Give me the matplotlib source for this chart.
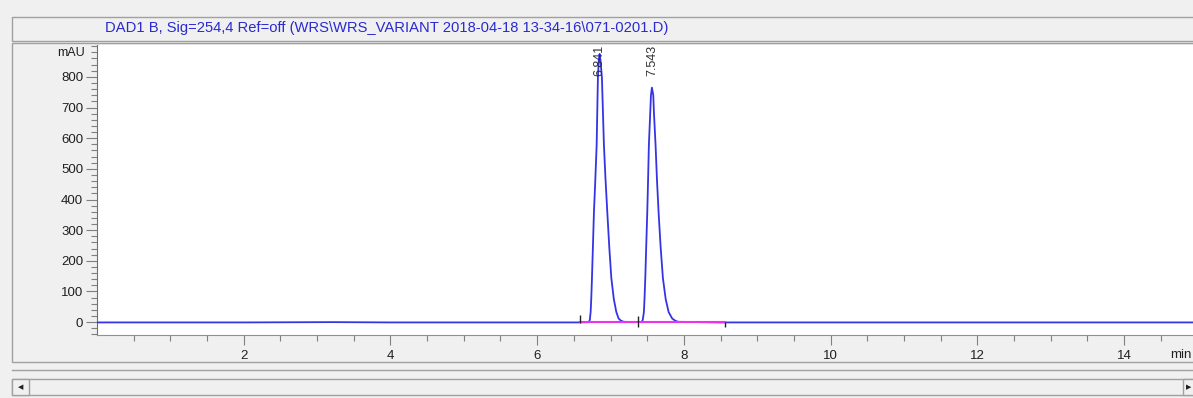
import matplotlib.pyplot as plt
import matplotlib.patches as patches
import numpy as np

# signal trace (min, mAU)
time = [0.0, 2.0, 3.2, 4.0, 6.0, 6.55, 6.705, 6.718, 6.729, 6.738, 6.747, 6.760,
        6.774, 6.792, 6.811, 6.828, 6.840, 6.851, 6.863, 6.883, 6.910, 6.932,
        6.956, 6.983, 7.011, 7.045, 7.079, 7.11, 7.14, 7.18, 7.30,
        7.425, 7.440, 7.455, 7.464, 7.474, 7.487, 7.501, 7.512, 7.523, 7.542,
        7.551, 7.564, 7.583, 7.591, 7.614, 7.633, 7.655, 7.683, 7.714, 7.752,
        7.792, 7.84, 7.88, 7.92, 8.5, 10.0, 12.0, 15.0]
signal = [-1, -1, 0, -1, -1, -1, 0, 8, 33, 80, 144, 245,
          359, 460, 578, 796, 855, 875, 855, 796, 578, 465,
          359, 245, 144, 75, 33, 12, 5, 1, 0,
          0, 8, 33, 80, 144, 250, 359, 465, 578, 687,
          740, 765, 740, 687, 578, 465, 359, 245, 144, 75,
          33, 12, 5, 1, -1, -1, -1, -1]

peak_labels = ["6.841", "7.543"]
peak_windows = [(6.6, 7.3), (7.4, 8.0)]
baseline_marks = [6.58, 7.38, 8.56]
title = "DAD1 B, Sig=254,4 Ref=off (WRS\\WRS_VARIANT 2018-04-18 13-34-16\\071-0201.D)"

W, H = 1193, 398
BG = "#f0f0f0"
EDGE = "#a0a0a0"
plt.rcParams['font.family'] = ['Liberation Sans', 'DejaVu Sans']

fig = plt.figure(figsize=(W / 100, H / 100), dpi=100, facecolor=BG)


def box(x0, y0, x1, y1, **kw):
    fig.patches.append(patches.Rectangle((x0 / W, 1 - y1 / H), (x1 - x0) / W, (y1 - y0) / H,
                                         transform=fig.transFigure, figure=fig, zorder=-5, **kw))


# title box, plot frame, scrollbar
box(12, 17, 1196, 41, facecolor=BG, edgecolor=EDGE, lw=1)
box(12, 43, 1196, 362, facecolor=BG, edgecolor=EDGE, lw=1)
fig.lines.append(plt.Line2D([12 / W, 1], [1 - 370 / H] * 2, color=EDGE, lw=1, transform=fig.transFigure))
box(12, 379, 1196, 395, facecolor=BG, edgecolor=EDGE, lw=1)
box(12, 379, 29, 395, facecolor=BG, edgecolor=EDGE, lw=1)
box(1183, 379, 1196, 395, facecolor=BG, edgecolor=EDGE, lw=1)
fig.text(20.5 / W, 1 - 387 / H, "\u25c0", fontsize=5, ha='center', va='center', color='#202020',
         family='DejaVu Sans')
fig.text(1189 / W, 1 - 387 / H, "\u25b6", fontsize=5, ha='center', va='center', color='#202020',
         family='DejaVu Sans')

fig.text(105 / W, 1 - 28 / H, title, fontsize=10.6, color='#2a2ad0', ha='left', va='center')

ax = fig.add_axes([97 / W, 1 - 335 / H, 1 - 97 / W, (335 - 45) / H])
ax.set_zorder(2)
ax.set_facecolor('white')
ax.set_xlim(0, 14.94)
ax.set_ylim(-42, 904)

ax.plot(time, signal, color='#3434e6', lw=1.3, zorder=3)

# integration baselines and markers
ax.plot([baseline_marks[0], baseline_marks[1]], [0, 0], color='#f030f0', lw=1.5, zorder=3.5)
ax.plot([baseline_marks[1], baseline_marks[2]], [0, 0], color='#f030f0', lw=1.5, zorder=3.5)
ax.vlines(baseline_marks[0], -2, 23, color='#202020', lw=1, zorder=4)
ax.vlines(baseline_marks[1], -16, 20, color='#202020', lw=1, zorder=4)
ax.vlines(baseline_marks[2], -16, 1, color='#202020', lw=1, zorder=4)

t = np.array(time)
s = np.array(signal)
for lab, (a, b) in zip(peak_labels, peak_windows):
    m = (t >= a) & (t <= b)
    tp = t[m][np.argmax(s[m])]
    ax.text(tp, 1.0, lab, transform=ax.get_xaxis_transform(), rotation=90,
            ha='center', va='top', fontsize=9, color='#303030', zorder=5)

for sp in ['top', 'right']:
    ax.spines[sp].set_visible(False)
ax.spines['left'].set_color('#707070')
ax.spines['bottom'].set_color('#909090')

ax.set_xticks(np.arange(2, 15, 2))
ax.set_xticks(np.arange(0.5, 15, 0.5), minor=True)
ax.set_yticks(np.arange(0, 801, 100))
ax.set_yticks(np.arange(-40, 901, 20), minor=True)
ax.tick_params(axis='both', which='major', direction='out', colors='#808080',
               labelcolor='#202020', labelsize=9.5, width=0.8)
ax.tick_params(axis='x', which='major', length=7, pad=4)
ax.tick_params(axis='y', which='major', length=8, pad=2)
ax.tick_params(axis='both', which='minor', direction='out', length=4, color='#808080', width=0.8)

ax.text(-12 / 1096, 1 - 8 / 290, "mAU", transform=ax.transAxes, ha='right', va='center',
        fontsize=9, color='#202020')
fig.text(1170 / W, 1 - 355 / H, "min", fontsize=9.5, ha='left', va='center', color='#202020')

fig.savefig("out.png", dpi=100, facecolor=BG)
